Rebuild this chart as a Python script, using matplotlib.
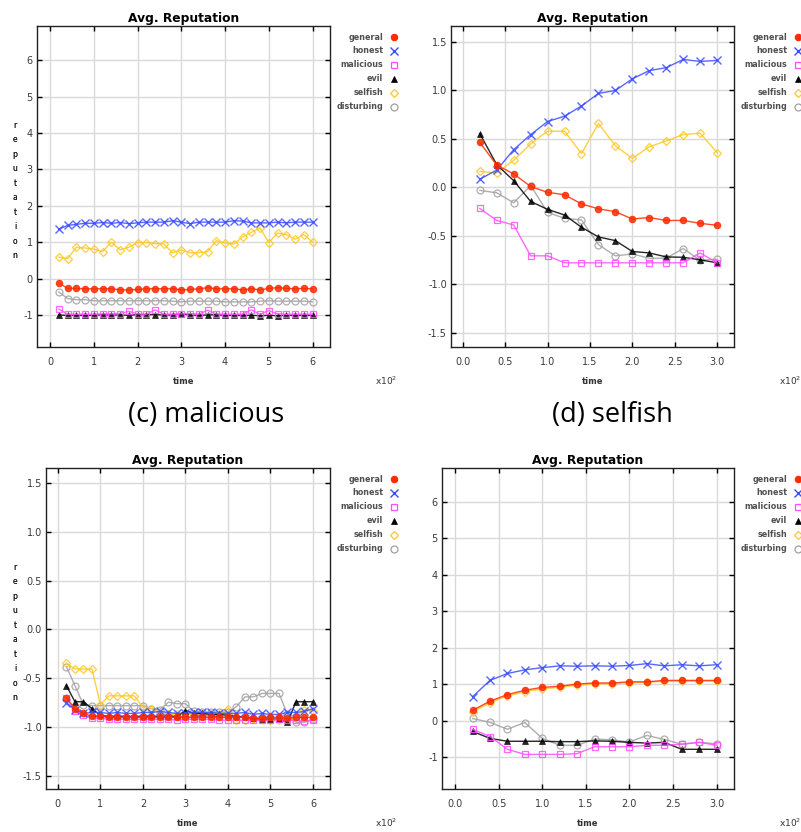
import numpy as np
import matplotlib
matplotlib.use('Agg')
import matplotlib.pyplot as plt
from matplotlib.lines import Line2D

# ------------------------------------------------------------------
# data, time in units of 10^2
# ------------------------------------------------------------------
series_names = ['general', 'honest', 'malicious', 'evil', 'selfish', 'disturbing']

t_long = [round(0.2 * i, 1) for i in range(1, 31)]   # 0.2 .. 6.0
t_short = [round(0.2 * i, 1) for i in range(1, 16)]  # 0.2 .. 3.0

# top-left panel
tl_general = [-0.12, -0.27, -0.27, -0.28, -0.28, -0.28, -0.28, -0.31, -0.31, -0.30,
              -0.28, -0.28, -0.28, -0.28, -0.31, -0.30, -0.28, -0.25, -0.28, -0.28,
              -0.28, -0.31, -0.28, -0.31, -0.27, -0.25, -0.27, -0.28, -0.27, -0.28]
tl_honest = [1.36, 1.46, 1.49, 1.52, 1.52, 1.54, 1.52, 1.54, 1.51, 1.53,
             1.55, 1.55, 1.55, 1.59, 1.55, 1.51, 1.55, 1.55, 1.55, 1.55,
             1.59, 1.58, 1.53, 1.53, 1.53, 1.55, 1.53, 1.55, 1.55, 1.55]
tl_malicious = [-0.84, -0.98, -0.98, -0.98, -0.98, -0.97, -0.97, -0.96, -0.90, -0.97,
                -0.98, -0.86, -0.98, -0.98, -0.97, -0.96, -0.98, -0.87, -0.97, -0.98,
                -0.98, -0.98, -0.86, -0.98, -0.88, -0.97, -0.98, -0.98, -0.98, -0.98]
tl_evil = [-1.00, -1.01, -1.01, -1.01, -1.01, -0.99, -1.00, -1.00, -1.01, -0.99,
           -0.99, -0.99, -1.00, -1.00, -0.97, -1.00, -1.01, -1.00, -0.99, -1.01,
           -1.01, -1.01, -1.01, -1.02, -1.01, -1.02, -1.01, -1.01, -1.01, -1.01]
tl_selfish = [0.59, 0.55, 0.86, 0.84, 0.81, 0.74, 1.00, 0.79, 0.86, 0.99,
              0.99, 0.96, 0.95, 0.71, 0.79, 0.71, 0.71, 0.74, 1.04, 0.98,
              0.95, 1.14, 1.27, 1.39, 0.99, 1.25, 1.21, 1.08, 1.21, 1.00]
tl_disturbing = [-0.37, -0.55, -0.58, -0.58, -0.61, -0.61, -0.61, -0.61, -0.61, -0.61,
                 -0.61, -0.61, -0.61, -0.62, -0.64, -0.62, -0.62, -0.62, -0.62, -0.64,
                 -0.64, -0.64, -0.64, -0.62, -0.61, -0.62, -0.62, -0.62, -0.62, -0.64]

# top-right panel
tr_general = [0.465, 0.23, 0.14, 0.01, -0.05, -0.075, -0.17, -0.22, -0.25, -0.325,
              -0.31, -0.34, -0.34, -0.37, -0.39]
tr_honest = [0.085, 0.18, 0.39, 0.545, 0.68, 0.735, 0.84, 0.97, 1.00, 1.12,
             1.205, 1.235, 1.32, 1.30, 1.31]
tr_malicious = [-0.216, -0.34, -0.387, -0.705, -0.705, -0.777, -0.777, -0.777, -0.777, -0.777,
                -0.777, -0.777, -0.777, -0.675, -0.777]
tr_evil = [0.555, 0.235, 0.07, -0.144, -0.226, -0.284, -0.41, -0.51, -0.548, -0.66,
           -0.675, -0.716, -0.72, -0.746, -0.777]
tr_selfish = [0.165, 0.15, 0.28, 0.45, 0.58, 0.58, 0.35, 0.66, 0.43, 0.30,
              0.42, 0.48, 0.545, 0.56, 0.36]
tr_disturbing = [-0.03, -0.055, -0.158, 0.02, -0.257, -0.318, -0.335, -0.59, -0.705, -0.685,
                 -0.73, -0.73, -0.63, -0.75, -0.74]

# bottom-left panel
bl_general = [-0.70, -0.81, -0.86, -0.89, -0.89, -0.90, -0.90, -0.90, -0.90, -0.90,
              -0.90, -0.90, -0.90, -0.90, -0.90, -0.90, -0.90, -0.90, -0.90, -0.90,
              -0.90, -0.90, -0.91, -0.91, -0.90, -0.90, -0.91, -0.90, -0.90, -0.90]
bl_honest = [-0.75, -0.82, -0.86, -0.85, -0.85, -0.86, -0.85, -0.86, -0.86, -0.85,
             -0.85, -0.84, -0.85, -0.86, -0.86, -0.85, -0.85, -0.85, -0.86, -0.86,
             -0.86, -0.85, -0.87, -0.86, -0.87, -0.87, -0.85, -0.85, -0.84, -0.81]
bl_malicious = [-0.70, -0.83, -0.88, -0.91, -0.91, -0.92, -0.92, -0.92, -0.92, -0.92,
                -0.92, -0.92, -0.92, -0.93, -0.92, -0.92, -0.92, -0.92, -0.93, -0.93,
                -0.93, -0.93, -0.93, -0.93, -0.93, -0.92, -0.93, -0.93, -0.94, -0.93]
bl_evil = [-0.575, -0.74, -0.74, -0.81, -0.88, -0.89, -0.89, -0.89, -0.89, -0.89,
           -0.89, -0.89, -0.89, -0.89, -0.83, -0.86, -0.86, -0.87, -0.87, -0.88,
           -0.89, -0.90, -0.91, -0.92, -0.92, -0.92, -0.95, -0.74, -0.74, -0.74]
bl_selfish = [-0.344, -0.405, -0.405, -0.405, -0.77, -0.68, -0.68, -0.68, -0.68, -0.80,
              -0.81, -0.86, -0.87, -0.87, -0.87, -0.87, -0.87, -0.87, -0.87, -0.81,
              -0.93, -0.93, -0.92, -0.92, -0.93, -0.93, -0.93, -0.90, -0.82, -0.83]
bl_disturbing = [-0.38, -0.575, -0.77, -0.78, -0.78, -0.78, -0.78, -0.78, -0.78, -0.78,
                 -0.81, -0.82, -0.745, -0.76, -0.76, -0.84, -0.85, -0.85, -0.85, -0.85,
                 -0.79, -0.69, -0.69, -0.655, -0.655, -0.655, -0.87, -0.95, -0.95, -0.92]

# bottom-right panel
br_general = [0.28, 0.53, 0.71, 0.83, 0.91, 0.94, 1.00, 1.03, 1.03, 1.06,
              1.06, 1.10, 1.10, 1.10, 1.10]
br_honest = [0.65, 1.10, 1.29, 1.39, 1.45, 1.50, 1.49, 1.50, 1.49, 1.51,
             1.56, 1.50, 1.53, 1.50, 1.53]
br_malicious = [-0.24, -0.44, -0.79, -0.93, -0.93, -0.93, -0.91, -0.72, -0.72, -0.72,
                -0.68, -0.68, -0.65, -0.60, -0.68]
br_evil = [-0.30, -0.49, -0.57, -0.57, -0.57, -0.58, -0.58, -0.56, -0.57, -0.60,
           -0.62, -0.60, -0.79, -0.79, -0.79]
br_selfish = [0.24, 0.49, 0.67, 0.79, 0.87, 0.91, 0.97, 1.00, 1.01, 1.04,
              1.05, 1.08, 1.08, 1.08, 1.08]
br_disturbing = [0.055, -0.05, -0.24, -0.055, -0.49, -0.68, -0.68, -0.51, -0.53, -0.59,
                 -0.41, -0.52, -0.65, -0.60, -0.64]

captions = ['(c) malicious', '(d) selfish']

# ------------------------------------------------------------------
# styling
# ------------------------------------------------------------------
styles = {
    'general':    dict(color='#ff2a00', marker='o', ms=4.6, mfc='#ff2a00', mew=0.8),
    'honest':     dict(color='#3a4cff', marker='x', ms=5.2, mfc='none', mew=1.0),
    'malicious':  dict(color='#ff4dff', marker='s', ms=5.0, mfc='none', mew=0.9),
    'evil':       dict(color='#000000', marker='^', ms=3.8, mfc='#000000', mew=0.5),
    'selfish':    dict(color='#ffc820', marker='D', ms=4.2, mfc='none', mew=0.9),
    'disturbing': dict(color='#a0a0a0', marker='o', ms=5.0, mfc='none', mew=0.9),
}

plt.rcParams['font.family'] = 'DejaVu Sans'

fig = plt.figure(figsize=(8.01, 8.32), dpi=100, facecolor='white')
W, H = 801.0, 832.0


def fx(px):
    return px / W


def fy(py):
    return 1 - py / H


def draw_panel(rect_px, t, data, xlim, ylim, yticks, xticks, xfmt, yfmt):
    l, r, top, bot = rect_px
    ax = fig.add_axes([fx(l), fy(bot), fx(r) - fx(l), fy(top) - fy(bot)])
    # draw general last so it sits on top
    for name in reversed(series_names):
        st = styles[name]
        ax.plot(t, data[name], color=st['color'], lw=1.0, alpha=0.85,
                marker=st['marker'], ms=st['ms'], mfc=st['mfc'],
                mec=st['color'], mew=st['mew'])
    ax.set_xlim(*xlim)
    ax.set_ylim(*ylim)
    ax.set_xticks(xticks)
    ax.set_yticks(yticks)
    ax.set_xticklabels([xfmt.format(v) for v in xticks])
    ax.set_yticklabels([yfmt.format(v) for v in yticks])
    ax.grid(True, color='#d9d9d9', lw=1.0)
    ax.set_axisbelow(True)
    ax.tick_params(direction='in', length=3.5, width=1.0, top=True, right=True,
                   labelsize=7, labelcolor='#3a3a3a')
    ax.tick_params(axis='x', pad=7)
    ax.tick_params(axis='y', pad=3)
    for sp in ax.spines.values():
        sp.set_linewidth(1.0)
        sp.set_color('#222222')
    ax.set_title('Avg. Reputation', fontsize=8.8, fontweight='bold', pad=3)

    # y label as stacked letters
    cy = (top + bot) / 2
    fig.text(fx(15), fy(cy + 4), '\n'.join('reputation'), fontsize=5.5,
             ha='center', va='center', linespacing=1.78, color='#222222')
    # x label and multiplier
    fig.text(fx((l + r) / 2), fy(bot + 34), 'time', fontsize=6, fontweight='bold',
             ha='center', va='center', color='#333333')
    fig.text(fx(r + 45), fy(bot + 34), r'x10$^2$', fontsize=6.5,
             ha='left', va='center', color='#333333')

    # legend: right-aligned labels with marker on the right
    for i, name in enumerate(series_names):
        yy = top + 11 + i * 13.9
        fig.text(fx(r + 53), fy(yy), name, fontsize=5.8, fontweight='bold',
                 ha='right', va='center', color='#505050')
        st = styles[name]
        fig.add_artist(Line2D([fx(r + 64)], [fy(yy)], transform=fig.transFigure,
                              linestyle='none', marker=st['marker'], ms=st['ms'],
                              mfc=st['mfc'], mec=st['color'], mew=st['mew']))
    return ax


tl_data = dict(zip(series_names, [tl_general, tl_honest, tl_malicious, tl_evil, tl_selfish, tl_disturbing]))
tr_data = dict(zip(series_names, [tr_general, tr_honest, tr_malicious, tr_evil, tr_selfish, tr_disturbing]))
bl_data = dict(zip(series_names, [bl_general, bl_honest, bl_malicious, bl_evil, bl_selfish, bl_disturbing]))
br_data = dict(zip(series_names, [br_general, br_honest, br_malicious, br_evil, br_selfish, br_disturbing]))

int_x = [0, 1, 2, 3, 4, 5, 6]
half_x = [0.0, 0.5, 1.0, 1.5, 2.0, 2.5, 3.0]
int_y = [-1, 0, 1, 2, 3, 4, 5, 6]
half_y = [-1.5, -1.0, -0.5, 0.0, 0.5, 1.0, 1.5]

draw_panel((37, 330, 26, 347), t_long, tl_data, (-0.3, 6.4), (-1.88, 6.94),
           int_y, int_x, '{:d}', '{:d}')
draw_panel((451, 734, 26, 347), t_short, tr_data, (-0.14, 3.2), (-1.645, 1.665),
           half_y, half_x, '{:.1f}', '{:.1f}')
draw_panel((46, 330, 468, 789), t_long, bl_data, (-0.28, 6.4), (-1.634, 1.654),
           half_y, int_x, '{:d}', '{:.1f}')
draw_panel((442, 734, 468, 789), t_short, br_data, (-0.15, 3.2), (-1.88, 6.93),
           int_y, half_x, '{:.1f}', '{:d}')

# sub-figure captions between the rows
fig.text(fx(206), fy(415), captions[0], fontsize=19.5, ha='center', va='center',
         family='Open Sans')
fig.text(fx(612), fy(415), captions[1], fontsize=19.5, ha='center', va='center',
         family='Open Sans')

fig.savefig('out.png', dpi=100, facecolor='white')
